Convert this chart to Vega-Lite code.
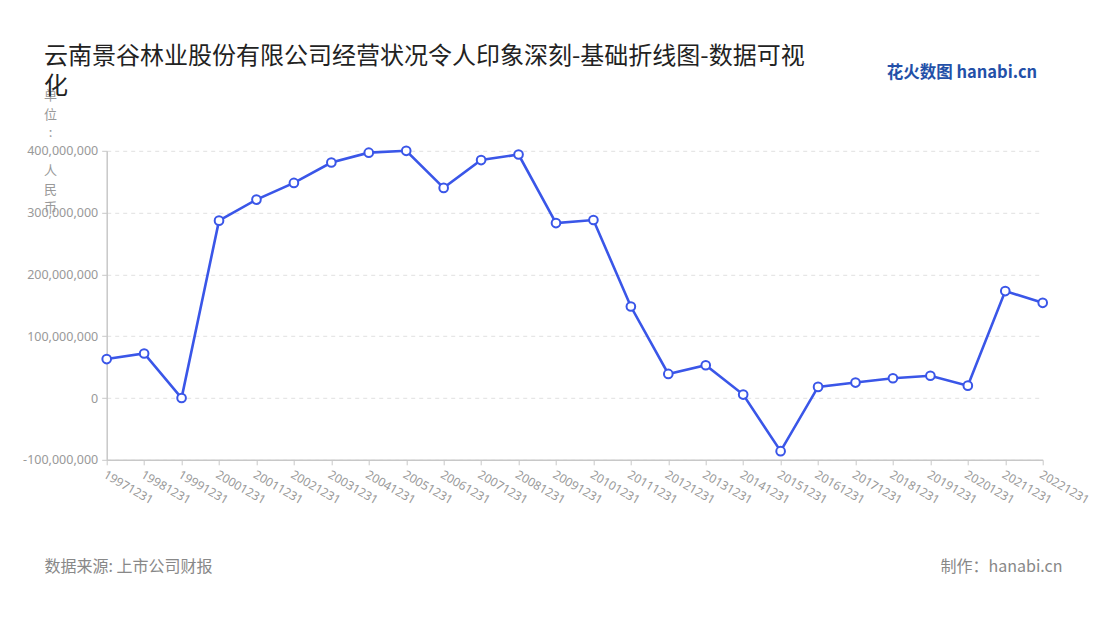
{
  "$schema": "https://vega.github.io/schema/vega-lite/v6.json",
  "width": 936,
  "height": 309,
  "autosize": {"type": "none"},
  "padding": {"left": 106.7, "top": 150.8, "right": 57.3, "bottom": 160.2},
  "background": "white",
  "config": {
    "font": "Noto Sans CJK SC",
    "view": {"stroke": null},
    "locale": {"number": {"decimal": ".", "thousands": ",", "grouping": [3], "currency": ["$", ""], "minus": "-"}}
  },
  "title": {
    "text": ["云南景谷林业股份有限公司经营状况令人印象深刻-基础折线图-数据可视", "化"],
    "anchor": "start",
    "frame": "group",
    "dx": -62.7,
    "dy": 44,
    "fontSize": 24,
    "fontWeight": "normal",
    "color": "#222222",
    "lineHeight": 30,
    "baseline": "top",
    "offset": 10
  },
  "data": {
    "values": [
      {"period": "19971231", "value": 63000000},
      {"period": "19981231", "value": 72000000},
      {"period": "19991231", "value": 0},
      {"period": "20001231", "value": 287000000},
      {"period": "20011231", "value": 321000000},
      {"period": "20021231", "value": 348000000},
      {"period": "20031231", "value": 381000000},
      {"period": "20041231", "value": 397000000},
      {"period": "20051231", "value": 400000000},
      {"period": "20061231", "value": 340000000},
      {"period": "20071231", "value": 385000000},
      {"period": "20081231", "value": 394000000},
      {"period": "20091231", "value": 283000000},
      {"period": "20101231", "value": 288000000},
      {"period": "20111231", "value": 148000000},
      {"period": "20121231", "value": 39000000},
      {"period": "20131231", "value": 53000000},
      {"period": "20141231", "value": 5500000},
      {"period": "20151231", "value": -86000000},
      {"period": "20161231", "value": 18000000},
      {"period": "20171231", "value": 25000000},
      {"period": "20181231", "value": 32000000},
      {"period": "20191231", "value": 36000000},
      {"period": "20201231", "value": 20000000},
      {"period": "20211231", "value": 173000000},
      {"period": "20221231", "value": 154000000}
    ]
  },
  "layer": [
    {
      "mark": {
        "type": "line",
        "color": "#3a56e8",
        "strokeWidth": 2.6,
        "clip": false,
        "point": {"filled": false, "fill": "white", "stroke": "#3a56e8", "size": 75, "strokeWidth": 2, "opacity": 1}
      },
      "encoding": {
        "x": {
          "field": "period",
          "type": "ordinal",
          "sort": null,
          "scale": {"type": "point", "padding": 0},
          "axis": {
            "orient": "bottom",
            "labelAngle": 30,
            "labelAlign": "left",
            "labelBaseline": "top",
            "labelPadding": 4,
            "labelColor": "#999999",
            "labelFontSize": 12,
            "labelFont": "Noto Sans",
            "tickColor": "#c8c8c8",
            "tickSize": 5,
            "domainColor": "#c8c8c8",
            "domainWidth": 1.5,
            "grid": false,
            "title": "数据来源: 上市公司财报",
            "titleX": -62.7,
            "titleY": 107,
            "titleAlign": "left",
            "titleAnchor": "start",
            "titleBaseline": "middle",
            "titleFontSize": 16,
            "titleFontWeight": "normal",
            "titleColor": "#888888"
          }
        },
        "y": {
          "field": "value",
          "type": "quantitative",
          "scale": {"domain": [-100000000, 400000000], "nice": false, "zero": false},
          "axis": {
            "values": [-100000000, 0, 100000000, 200000000, 300000000, 400000000],
            "format": ",d",
            "labelColor": "#999999",
            "labelFontSize": 12.5,
            "labelFont": "Noto Sans",
            "labelPadding": 4,
            "tickColor": "#c8c8c8",
            "tickSize": 5,
            "domainColor": "#c8c8c8",
            "domainWidth": 1.5,
            "grid": true,
            "gridColor": "#e6e6e6",
            "gridDash": [4, 4],
            "gridWidth": 1.2,
            "title": ["单", "位", ":", "\u200b", "人", "民", "币"],
            "titleAngle": 0,
            "titleX": -56.7,
            "titleY": -61.3,
            "titleAlign": "center",
            "titleBaseline": "top",
            "titleFontSize": 13,
            "titleFontWeight": "normal",
            "titleColor": "#999999",
            "titleLineHeight": 18.7
          }
        }
      }
    },
    {
      "mark": {"type": "point", "opacity": 0},
      "encoding": {
        "x": {
          "field": "period",
          "type": "ordinal",
          "sort": null,
          "axis": {
            "orient": "top",
            "labels": false,
            "ticks": false,
            "domain": false,
            "grid": false,
            "title": "花火数图 hanabi.cn",
            "titleX": 930,
            "titleY": -78,
            "titleAlign": "right",
            "titleAnchor": "end",
            "titleBaseline": "middle",
            "titleFontSize": 16.5,
            "titleFontWeight": "bold",
            "titleColor": "#2350a8"
          }
        },
        "y": {
          "field": "value",
          "type": "quantitative",
          "axis": {
            "orient": "right",
            "labels": false,
            "ticks": false,
            "domain": false,
            "grid": false,
            "title": "制作：hanabi.cn",
            "titleAngle": 0,
            "titleX": 19.3,
            "titleY": 416,
            "titleAlign": "right",
            "titleAnchor": "end",
            "titleBaseline": "middle",
            "titleFontSize": 16,
            "titleFontWeight": "normal",
            "titleColor": "#888888"
          }
        }
      }
    }
  ],
  "resolve": {"axis": {"x": "independent", "y": "independent"}}
}
